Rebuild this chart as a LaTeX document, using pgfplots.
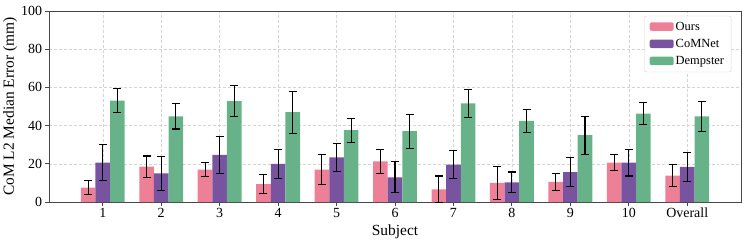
\documentclass[border=0pt]{standalone}
\usepackage{pgfplots}
\pgfplotsset{compat=1.18}
\usepackage{pgfplotstable}
\usepackage{fontspec}
\setmainfont{Liberation Serif}
\definecolor{cours}{RGB}{237,128,150}
\definecolor{ccom}{RGB}{120,84,160}
\definecolor{cdem}{RGB}{104,178,138}
\definecolor{cgrid}{RGB}{212,212,212}
\definecolor{cframe}{RGB}{70,70,70}
\pgfplotstableread{
x ours oe com ce dem de
0 7.5 3.8 20.6 9.3 53.1 6.3
1 18.5 5.6 15.0 8.8 44.8 6.6
2 17.0 3.6 24.7 9.6 52.8 8.0
3 9.4 4.9 19.9 7.7 47.0 10.9
4 17.0 8.0 23.3 7.1 37.6 6.3
5 21.3 6.3 12.9 8.1 37.1 8.9
6 6.6 7.0 19.6 7.3 51.7 7.4
7 10.0 8.5 10.3 5.4 42.5 6.1
8 10.5 4.4 15.6 7.5 35.0 9.9
9 20.6 4.1 20.6 7.0 46.3 5.6
10 13.8 5.8 18.4 7.6 44.8 7.8
}\datatable
\begin{document}
\begin{tikzpicture}
\begin{axis}[
  scale only axis, width=692bp, height=191bp,
  at={(0,0)}, anchor=south west,
  xmin=-0.92, xmax=10.92, ymin=0, ymax=100,
  xtick={0,...,10},
  xticklabels={1,2,3,4,5,6,7,8,9,10,Overall},
  ytick={0,20,40,60,80,100},
  /pgf/number format/assume math mode=true,
  tick label style={font=\fontsize{14}{16}\selectfont},
  xticklabel style={yshift=1bp},
  xlabel={Subject}, ylabel={CoM L2 Median Error (mm)},
  label style={font=\fontsize{15.5}{17}\selectfont},
  xlabel style={yshift=0bp},
  ylabel style={yshift=-3bp},
  grid=major,
  major grid style={cgrid, dash pattern=on 3pt off 2pt, line width=0.5pt},
  axis line style={cframe, line width=0.8pt},
  tick style={cframe, line width=0.8pt},
  tick align=outside, tick pos=left,
  major tick length=3.5bp,
  legend style={at={(0.986,0.975)}, anchor=north east, font=\fontsize{12.5}{14}\selectfont,
    draw=cgrid, rounded corners=2pt, row sep=3.5pt, inner xsep=5pt, inner ysep=4pt},
  legend cell align=left,
  legend image code/.code={\draw[#1, draw=none] (0bp,-4bp) rectangle (24bp,4.5bp);},
  every axis plot/.append style={
    ybar, bar width=0.25, bar shift=0, draw=none,
    /pgfplots/error bars/y dir=both, /pgfplots/error bars/y explicit,
    /pgfplots/error bars/error bar style={black, line width=1.1pt},
    /pgfplots/error bars/error mark options={rotate=90, mark size=4bp, black, line width=1.1pt}},
]
\addplot[fill=cours] table[x expr=\thisrow{x}-0.25, y=ours, y error=oe]{\datatable};
\addlegendentry{Ours}
\addplot[fill=ccom] table[x=x, y=com, y error=ce]{\datatable};
\addlegendentry{CoMNet}
\addplot[fill=cdem] table[x expr=\thisrow{x}+0.25, y=dem, y error=de]{\datatable};
\addlegendentry{Dempster}
\end{axis}
\pgfresetboundingbox
\path[use as bounding box] (-49bp,-43bp) rectangle (698bp,202bp);
\end{tikzpicture}
\end{document}
